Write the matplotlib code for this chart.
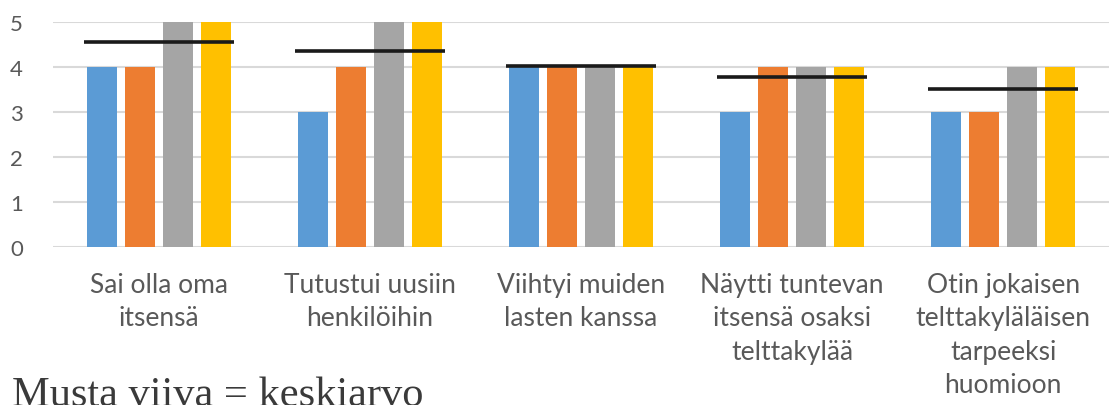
import numpy as np
import matplotlib
matplotlib.use("Agg")
import matplotlib.pyplot as plt

# data
categories = [
    "Sai olla oma\nitsensä",
    "Tutustui uusiin\nhenkilöihin",
    "Viihtyi muiden\nlasten kanssa",
    "Näytti tuntevan\nitsensä osaksi\ntelttakylää",
    "Otin jokaisen\ntelttakyläläisen\ntarpeeksi\nhuomioon",
]
series_1 = [4, 3, 4, 3, 3]
series_2 = [4, 4, 4, 4, 3]
series_3 = [5, 5, 4, 4, 4]
series_4 = [5, 5, 4, 4, 4]
means = [4.55, 4.35, 4.02, 3.79, 3.52]
yticks = [0, 1, 2, 3, 4, 5]

colors = ["#5B9BD5", "#ED7D31", "#A5A5A5", "#FFC000"]
text_col = "#595959"

plt.rcParams["font.family"] = ["Lato", "DejaVu Sans"]

fig = plt.figure(figsize=(11.12, 4.06), dpi=100)
ax = fig.add_axes([0.0477, 0.389, 0.9493, 0.554])

x = np.arange(len(categories))
step = 0.18
width = 0.142
for i, (vals, c) in enumerate(zip([series_1, series_2, series_3, series_4], colors)):
    ax.bar(x + (i - 1.5) * step, vals, width=width, color=c, zorder=2)

# black line = mean of each group
ax.hlines(means, x - 0.355, x + 0.355, colors="#1a1a1a", linewidth=2.6, zorder=3)

ax.set_xlim(-0.5, len(categories) - 0.5)
ax.set_ylim(0, 5)
ax.set_yticks(yticks)
ax.set_yticklabels([str(t) for t in yticks], fontsize=16, color=text_col)
ax.set_xticks(x)
ax.set_xticklabels(categories, fontsize=19, color=text_col, linespacing=1.42, va="top")
ax.tick_params(axis="both", length=0)
ax.tick_params(axis="x", pad=18)
ax.tick_params(axis="y", pad=31)
for lab in ax.get_yticklabels():
    lab.set_horizontalalignment("left")
ax.grid(axis="y", color="#D9D9D9", linewidth=1.5, zorder=0)
ax.set_axisbelow(True)
for s in ax.spines.values():
    s.set_visible(False)

fig.text(0.011, 0.0, "Musta viiva = keskiarvo", family="Liberation Serif",
         fontsize=30.5, color="#3a3a3a", va="baseline", ha="left")

fig.savefig("out.png", dpi=100)
